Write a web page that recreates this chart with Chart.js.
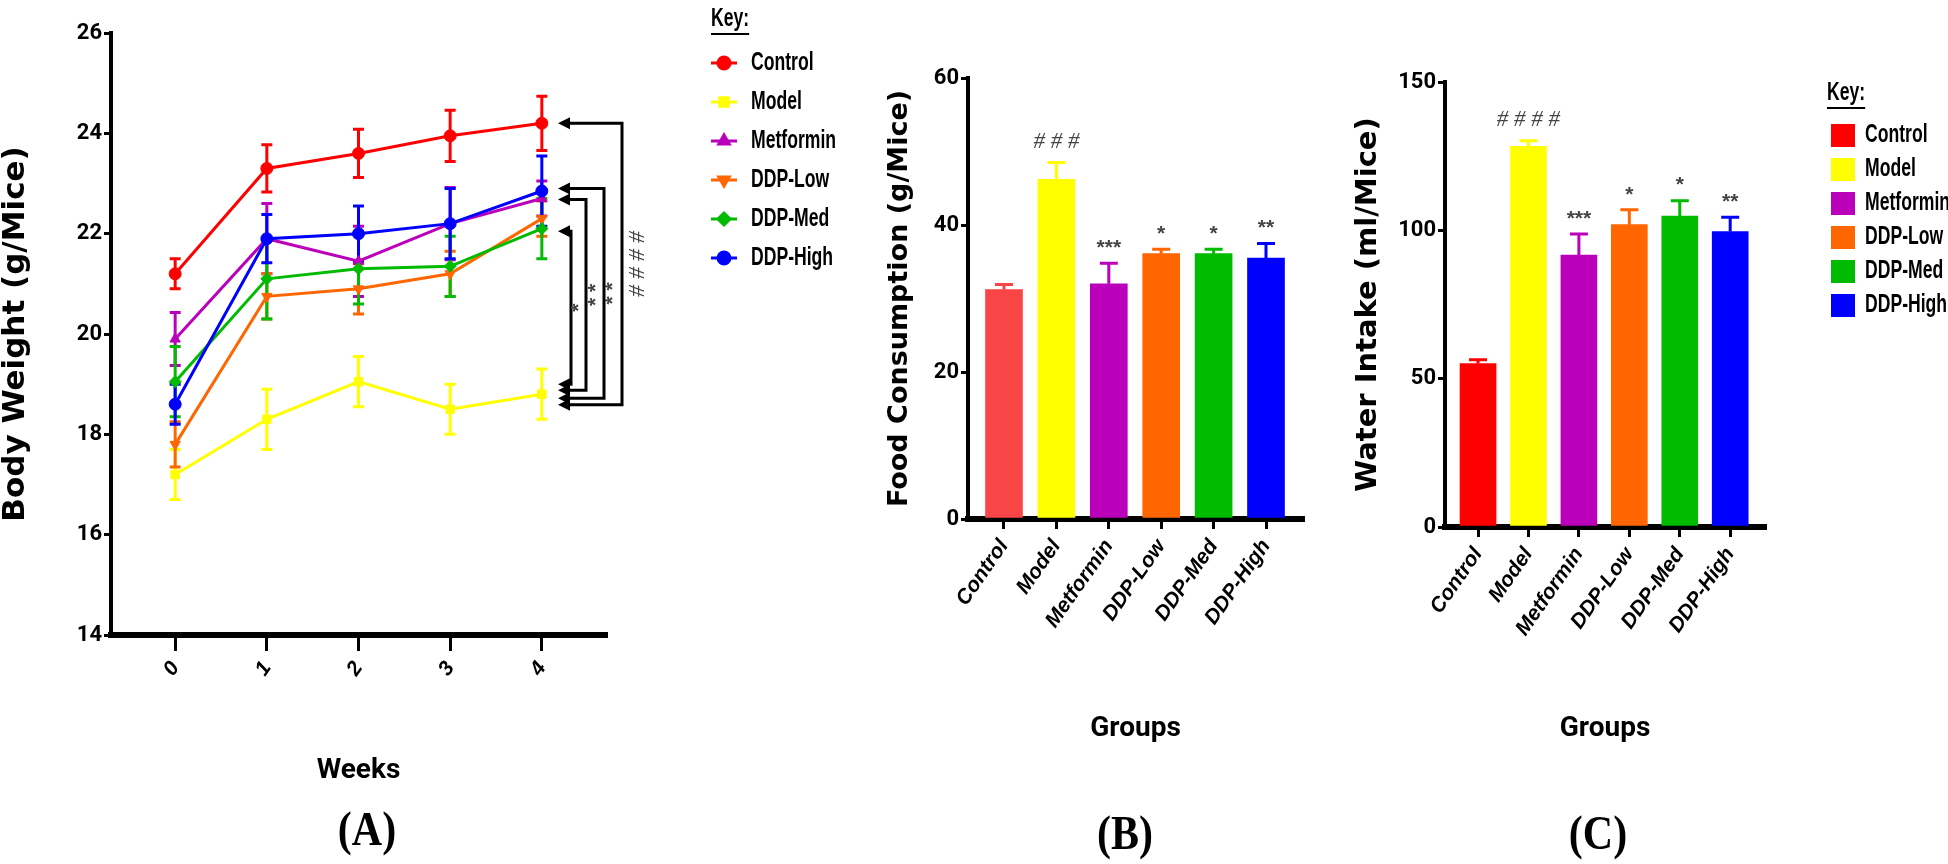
<!DOCTYPE html>
<html>
<head>
<meta charset="utf-8">
<title>Body weight, food consumption and water intake</title>
<script src="https://cdn.jsdelivr.net/npm/chart.js@4.4.0/dist/chart.umd.min.js"></script>
<style>
  html, body { margin: 0; padding: 0; background: #fff; }
  #figure { position: relative; width: 1948px; height: 864px; overflow: hidden; }
  #figure canvas { position: absolute; top: 0; }
  #panel-a { left: 0; }
  #panel-b { left: 850px; }
  #panel-c { left: 1320px; }
</style>
</head>
<body>
<div id="figure">
  <canvas id="panel-a" width="850" height="864"></canvas>
  <canvas id="panel-b" width="470" height="864"></canvas>
  <canvas id="panel-c" width="628" height="864"></canvas>
</div>
<script>
// values
const weeks = [0, 1, 2, 3, 4];
const groups = ['Control', 'Model', 'Metformin', 'DDP-Low', 'DDP-Med', 'DDP-High'];

const controlWeight   = [21.2, 23.3, 23.6, 23.95, 24.2];
const controlSem      = [0.3, 0.47, 0.48, 0.51, 0.54];
const modelWeight     = [17.2, 18.3, 19.05, 18.5, 18.8];
const modelSem        = [0.5, 0.6, 0.5, 0.5, 0.5];
const metforminWeight = [19.9, 21.9, 21.45, 22.2, 22.7];
const metforminSem    = [0.53, 0.7, 0.7, 0.72, 0.35];
const lowWeight       = [17.8, 20.75, 20.9, 21.2, 22.3];
const lowSem          = [0.45, 0.45, 0.5, 0.45, 0.35];
const medWeight       = [19.05, 21.1, 21.3, 21.35, 22.1];
const medSem          = [0.7, 0.8, 0.7, 0.6, 0.6];
const highWeight      = [18.6, 21.9, 22.0, 22.2, 22.85];
const highSem         = [0.4, 0.48, 0.55, 0.7, 0.7];

// week-4 comparisons against Model (arrow brackets on the right of panel A)
const weightSigLabels = ['*', '* *', '* *', '# # # #'];
const weightSigFrom   = [22.05, 22.68, 22.9, 24.2];
const weightSigTo     = [19.0, 18.88, 18.72, 18.59];

const foodIntake = [31.2, 46.2, 32.0, 36.1, 36.1, 35.5];
const foodSem    = [0.7, 2.3, 2.8, 0.6, 0.6, 2.0];
const foodSig    = ['', '# # #', '***', '*', '*', '**'];

const waterIntake = [55.1, 128.3, 91.7, 101.9, 104.8, 99.6];
const waterSem    = [1.3, 1.9, 7.1, 5.0, 5.2, 4.8];
const waterSig    = ['', '# # # #', '***', '*', '*', '**'];

// styling
const lineColors  = ['#FF0000', '#FFFF00', '#BB00BB', '#FF6600', '#00BB00', '#0000FF'];
const foodColors  = ['#F94545', '#FFFF00', '#BB00BB', '#FF6600', '#00BB00', '#0000FF'];
const waterColors = ['#FF0000', '#FFFF00', '#BB00BB', '#FF6600', '#00BB00', '#0000FF'];
const markers     = ['circle', 'rect', 'triangle', 'triangle', 'rectRot', 'circle'];
const markerTurn  = [0, 0, 0, 180, 0, 0];

const NARROW = "Roboto, 'Liberation Sans', sans-serif";
const SANS = "'Liberation Sans', Arial, sans-serif";
const WIDE = "'DejaVu Sans', Verdana, sans-serif";
const SERIF = "'Liberation Serif', 'Times New Roman', serif";

// condensed, slightly tall bold text like the figure's Arial Narrow
function narrowText(ctx, text, x, y, size) {
  ctx.save();
  ctx.translate(x, y);
  ctx.scale(0.8, 1.18);
  ctx.font = `bold ${size}px ${SANS}`;
  ctx.fillText(text, 0, 0);
  const w = ctx.measureText(text).width * 0.8;
  ctx.restore();
  return w;
}

// error bars (both ways for the lines, upward only for the bars)
const errorBars = {
  id: 'errorBars',
  beforeDatasetsDraw(chart, args, opts) { if (opts.under) this.paint(chart, opts); },
  afterDatasetsDraw(chart, args, opts) { if (!opts.under) this.paint(chart, opts); },
  paint(chart, opts) {
    const {ctx, scales: {x, y}} = chart;
    ctx.save();
    ctx.lineWidth = opts.width;
    chart.data.datasets.forEach(ds => {
      ds.data.forEach((pt, i) => {
        const color = Array.isArray(ds.backgroundColor) ? ds.backgroundColor[i] : ds.borderColor;
        const px = x.getPixelForValue(pt.x);
        const top = y.getPixelForValue(pt.y + ds.sem[i]);
        const bottom = opts.upOnly ? y.getPixelForValue(pt.y) : y.getPixelForValue(pt.y - ds.sem[i]);
        ctx.strokeStyle = color;
        ctx.beginPath();
        ctx.moveTo(px, top); ctx.lineTo(px, bottom);
        ctx.moveTo(px - opts.cap / 2, top); ctx.lineTo(px + opts.cap / 2, top);
        if (!opts.upOnly) { ctx.moveTo(px - opts.cap / 2, bottom); ctx.lineTo(px + opts.cap / 2, bottom); }
        ctx.stroke();
        if (ds.sig && ds.sig[i]) {
          const hash = ds.sig[i].includes('#');
          ctx.fillStyle = '#444';
          ctx.font = hash ? `italic 23px ${SERIF}` : `bold 21px ${SANS}`;
          ctx.textAlign = 'center';
          ctx.textBaseline = 'middle';
          ctx.fillText(ds.sig[i], px, top - (hash ? 21 : 15));
        }
      });
    });
    ctx.restore();
  }
};

// arrow brackets from each treated group to Model at week 4
const weightBrackets = {
  id: 'weightBrackets',
  afterDraw(chart, args, opts) {
    const {ctx, scales: {y}} = chart;
    ctx.save();
    ctx.strokeStyle = '#000';
    ctx.fillStyle = '#000';
    ctx.lineWidth = 3;
    weightSigLabels.forEach((label, i) => {
      const y1 = y.getPixelForValue(weightSigFrom[i]);
      const y2 = y.getPixelForValue(weightSigTo[i]);
      const lx = opts.lineX[i];
      ctx.beginPath();
      ctx.moveTo(opts.tipX + 8, y1); ctx.lineTo(lx, y1); ctx.lineTo(lx, y2); ctx.lineTo(opts.tipX + 8, y2);
      ctx.stroke();
      [y1, y2].forEach(yy => {
        ctx.beginPath();
        ctx.moveTo(opts.tipX, yy); ctx.lineTo(opts.tipX + 12, yy - 6); ctx.lineTo(opts.tipX + 12, yy + 6);
        ctx.closePath(); ctx.fill();
      });
      ctx.save();
      ctx.translate(lx + opts.labelGap[i], (y1 + y2) / 2);
      ctx.rotate(-Math.PI / 2);
      ctx.fillStyle = '#444';
      ctx.font = label.includes('#') ? `italic 24px ${SERIF}` : `bold 21px ${SANS}`;
      ctx.textAlign = 'center';
      ctx.textBaseline = 'middle';
      ctx.fillText(label, 0, 0);
      ctx.restore();
    });
    ctx.restore();
  }
};

// "Key:" legends drawn on the canvas
const keyLegend = {
  id: 'keyLegend',
  afterDraw(chart, args, opts) {
    const ctx = chart.ctx;
    const ds = chart.data.datasets;
    ctx.save();
    ctx.fillStyle = '#000';
    ctx.textBaseline = 'middle';
    const kw = narrowText(ctx, 'Key:', opts.x, opts.titleY, 22);
    ctx.fillRect(opts.x, opts.titleY + 14, kw, 2);
    groups.forEach((name, i) => {
      const yy = opts.y + i * opts.step;
      if (opts.boxes) {
        ctx.fillStyle = ds[0].backgroundColor[i];
        ctx.fillRect(opts.x + 4, yy - 11, 24, 23);
      } else {
        ctx.strokeStyle = ds[i].borderColor;
        ctx.fillStyle = ds[i].borderColor;
        ctx.lineWidth = 3;
        ctx.beginPath(); ctx.moveTo(opts.x, yy); ctx.lineTo(opts.x + 26, yy); ctx.stroke();
        Chart.helpers.drawPoint(ctx, {pointStyle: ds[i].pointStyle, rotation: ds[i].pointRotation, radius: 6, borderWidth: 1}, opts.x + 13, yy);
      }
      ctx.fillStyle = '#000';
      narrowText(ctx, name, opts.x + opts.textGap, yy, 22);
    });
    ctx.restore();
  }
};

const panelLabel = {
  id: 'panelLabel',
  afterDraw(chart, args, opts) {
    const ctx = chart.ctx;
    ctx.save();
    ctx.font = `bold 42px ${SERIF}`;
    ctx.fillStyle = '#000';
    ctx.textAlign = 'center';
    ctx.textBaseline = 'middle';
    ctx.translate(opts.x, opts.y);
    ctx.scale(1, 1.15);
    ctx.fillText(opts.text, 0, 0);
    ctx.restore();
  }
};

function yAxis(min, max, step, width, title, titleSize, titlePad) {
  return {
    min: min, max: max,
    afterBuildTicks: s => { s.ticks = []; for (let v = min; v <= max; v += step) s.ticks.push({value: v}); },
    afterFit: s => { s.width = width; },
    grid: {drawOnChartArea: false, color: '#000', lineWidth: 3, tickLength: 7},
    border: {color: '#000', width: 4},
    ticks: {color: '#000', padding: 2, font: {family: NARROW, size: 22, weight: 'bold'}},
    title: {display: true, text: title, color: '#000', padding: {top: titlePad, bottom: 0},
            font: {family: WIDE, size: titleSize, weight: 'bold', lineHeight: 1}}
  };
}

function xAxis(min, max, ticks, labelOf, height, title, titlePad, tickLength) {
  return {
    type: 'linear', min: min, max: max, offset: false,
    afterBuildTicks: s => { s.ticks = ticks.map(v => ({value: v})); },
    afterFit: s => { s.height = height; },
    grid: {drawOnChartArea: false, offset: false, color: '#000', lineWidth: 3, tickLength: tickLength},
    border: {color: '#000', width: 6},
    ticks: {color: '#000', padding: 6, minRotation: 55, maxRotation: 55, autoSkip: false,
            callback: v => labelOf(v),
            font: {family: SANS, size: 21, weight: 'bold', style: 'italic'}},
    title: {display: true, text: title, color: '#000', padding: {top: 0, bottom: titlePad},
            font: {family: NARROW, size: 28, weight: 'bold', lineHeight: 1}}
  };
}

const common = {
  responsive: false,
  animation: false,
  events: []
};

// (A) body weight
const weightSeries = [controlWeight, modelWeight, metforminWeight, lowWeight, medWeight, highWeight];
const weightSems = [controlSem, modelSem, metforminSem, lowSem, medSem, highSem];

new Chart(document.getElementById('panel-a'), {
  type: 'line',
  data: {
    datasets: weightSeries.map((series, i) => ({
      label: groups[i],
      data: weeks.map((w, k) => ({x: w, y: series[k]})),
      sem: weightSems[i],
      borderColor: lineColors[i],
      backgroundColor: lineColors[i],
      borderWidth: 3,
      pointStyle: markers[i],
      pointRotation: markerTurn[i],
      pointRadius: 6,
      pointBorderWidth: 1,
      tension: 0,
      order: groups.length - i
    }))
  },
  options: {
    ...common,
    layout: {padding: {left: 0, top: 33, right: 244, bottom: 0}, autoPadding: false},
    plugins: {
      legend: {display: false},
      tooltip: {enabled: false},
      errorBars: {under: true, upOnly: false, cap: 11, width: 3},
      weightBrackets: {tipX: 558, lineX: [571, 586, 604, 622], labelGap: [8, 10, 9, 16]},
      keyLegend: {x: 711, titleY: 19, y: 63, step: 39, textGap: 40},
      panelLabel: {text: '(A)', x: 367, y: 833}
    },
    scales: {
      x: xAxis(-0.7, 4.7, weeks, v => String(v), 229, 'Weeks', 79, 16),
      y: yAxis(14, 26, 2, 111, 'Body Weight (g/Mice)', 31, 0)
    }
  },
  plugins: [errorBars, weightBrackets, keyLegend, panelLabel]
});

// (B) food consumption
new Chart(document.getElementById('panel-b'), {
  type: 'bar',
  data: {
    datasets: [{
      label: 'Food Consumption',
      data: foodIntake.map((v, i) => ({x: i, y: v})),
      sem: foodSem,
      sig: foodSig,
      backgroundColor: foodColors,
      borderWidth: 0,
      barThickness: 37
    }]
  },
  options: {
    ...common,
    layout: {padding: {left: 0, top: 78, right: 17, bottom: 0}, autoPadding: false},
    plugins: {
      legend: {display: false},
      tooltip: {enabled: false},
      errorBars: {under: false, upOnly: true, cap: 18, width: 3},
      panelLabel: {text: '(B)', x: 275, y: 837}
    },
    scales: {
      x: xAxis(-0.687, 5.706, groups.map((g, i) => i), v => groups[v], 345, 'Groups', 121, 10),
      y: yAxis(0, 60, 20, 118, 'Food Consumption (g/Mice)', 27, 36)
    }
  },
  plugins: [errorBars, panelLabel]
});

// (C) water intake
new Chart(document.getElementById('panel-c'), {
  type: 'bar',
  data: {
    datasets: [{
      label: 'Water Intake',
      data: waterIntake.map((v, i) => ({x: i, y: v})),
      sem: waterSem,
      sig: waterSig,
      backgroundColor: waterColors,
      borderWidth: 0,
      barThickness: 36
    }]
  },
  options: {
    ...common,
    layout: {padding: {left: 0, top: 82, right: 183, bottom: 0}, autoPadding: false},
    plugins: {
      legend: {display: false},
      tooltip: {enabled: false},
      errorBars: {under: false, upOnly: true, cap: 18, width: 3},
      keyLegend: {x: 507, titleY: 93, y: 135, step: 34, textGap: 38, boxes: true},
      panelLabel: {text: '(C)', x: 278, y: 837}
    },
    scales: {
      x: xAxis(-0.655, 5.69, groups.map((g, i) => i), v => groups[v], 337, 'Groups', 121, 10),
      y: yAxis(0, 150, 50, 125, 'Water Intake (ml/Mice)', 29, 34)
    }
  },
  plugins: [errorBars, keyLegend, panelLabel]
});
</script>
</body>
</html>
